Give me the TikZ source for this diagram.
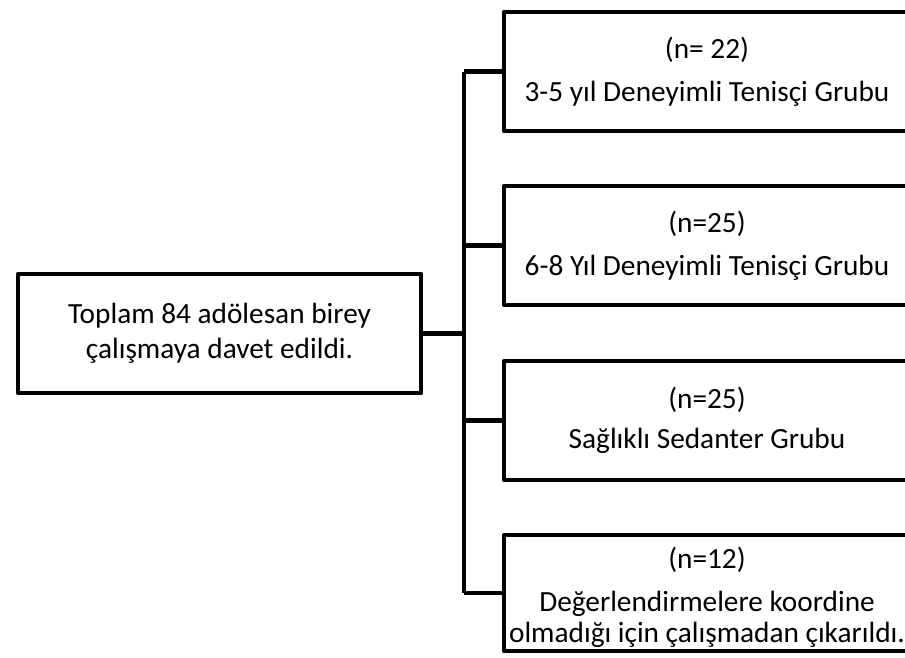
\documentclass[tikz,border=0pt]{standalone}
\usepackage{fontspec}
\setmainfont{Carlito}
\usetikzlibrary{positioning}

\begin{document}
\begin{tikzpicture}[x=1pt,y=-1pt,line width=4.5pt,line join=round,
    every node/.style={font=\fontsize{29.3}{35.5}\selectfont,inner sep=0pt,align=center},
    grp/.style={draw,minimum width=406pt,minimum height=119pt}]

    \useasboundingbox (0,0) rectangle (905,657);
    \clip (0,0) rectangle (905,657);

    % the boxes
    \node[draw,minimum width=403pt,minimum height=119pt] (all) at (219.5,333.5)
      {Toplam 84 adölesan birey\\çalışmaya davet edildi.};
    \node[grp] (g1) at (707,71.5) {(n= 22)\\[7pt]3-5 yıl Deneyimli Tenisçi Grubu};
    \node[grp] (g2) at (707,245.5) {(n=25)\\[7pt]6-8 Yıl Deneyimli Tenisçi Grubu};
    \node[grp] (g3) at (707,420.5) {(n=25)\\[5pt]Sağlıklı Sedanter Grubu};
    \node[grp,minimum height=116pt] (g4) at (707,593)
      {(n=12)\rule{0pt}{30pt}\\[8pt]Değerlendirmelere koordine\\[-5pt]olmadığı için çalışmadan çıkarıldı.};

    % the lines
    \coordinate (t) at (464,0);
    \draw (all.east) -- (all.east -| t);
    \draw (g1.west -| t) -- (g4.west -| t);
    \foreach \g in {g1,g2,g3,g4}
      \draw (\g.west -| t) -- (\g.west);

  \end{tikzpicture}
\end{document}
